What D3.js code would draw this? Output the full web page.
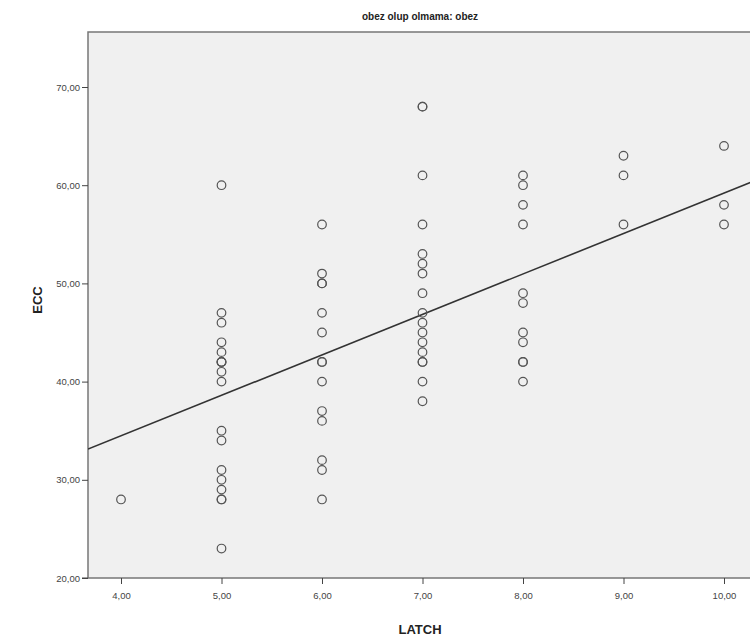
<!DOCTYPE html>
<html>
<head>
<meta charset="utf-8">
<script src="https://cdn.jsdelivr.net/npm/d3@7"></script>
<style>
  body { margin: 0; background: #fff; }
  svg { display: block; font-family: "Liberation Sans", Arial, sans-serif; }
</style>
</head>
<body>
<svg id="chart" width="750" height="642"></svg>
<script>
// LATCH groups and the ECC values
var latch4 = [28];
var latch5 = [60, 47, 46, 44, 43, 42, 42, 42, 41, 40, 35, 34, 31, 30, 29, 28, 28, 23];
var latch6 = [56, 51, 50, 50, 47, 45, 42, 42, 40, 37, 36, 32, 31, 28];
var latch7 = [68, 68, 61, 56, 53, 52, 51, 49, 47, 46, 45, 44, 43, 42, 42, 40, 38];
var latch8 = [61, 60, 58, 56, 49, 48, 45, 44, 42, 42, 40];
var latch9 = [63, 61, 56];
var latch10 = [64, 58, 56];

var xTicks = [4, 5, 6, 7, 8, 9, 10];
var yTicks = [20, 30, 40, 50, 60, 70];

// fit line (ECC = a + b * LATCH)
var fitA = 18.0;
var fitB = 4.12;

var svg = d3.select("#chart");
var plotLeft = 88, plotTop = 32, plotRight = 756, plotBottom = 578;

var x = d3.scaleLinear().domain([4, 10]).range([121, 724]);
var y = d3.scaleLinear().domain([20, 70]).range([578, 87]);

var fmt = function (d) { return d3.format(".2f")(d).replace(".", ","); };

function groupPoints(xv, arr) {
    return arr.map(function (v) { return { x: xv, y: v }; });
}
var points = [].concat(
    groupPoints(4, latch4), groupPoints(5, latch5), groupPoints(6, latch6),
    groupPoints(7, latch7), groupPoints(8, latch8), groupPoints(9, latch9),
    groupPoints(10, latch10)
);

// title
svg.append("text")
    .attr("x", 420).attr("y", 20)
    .attr("text-anchor", "middle")
    .style("font-size", "10px").style("font-weight", "bold").style("fill", "#222")
    .text("obez olup olmama: obez");

svg.append("defs").append("clipPath").attr("id", "clip")
    .append("rect")
    .attr("x", plotLeft).attr("y", plotTop)
    .attr("width", plotRight - plotLeft).attr("height", plotBottom - plotTop);

// plot background
svg.append("rect")
    .attr("x", plotLeft).attr("y", plotTop)
    .attr("width", plotRight - plotLeft).attr("height", plotBottom - plotTop)
    .style("fill", "#f0f0f0").style("stroke", "#777").style("stroke-width", 1.5);

var plot = svg.append("g").attr("clip-path", "url(#clip)");

// fit line across the plot
var xLo = x.invert(plotLeft), xHi = x.invert(plotRight);
plot.append("line")
    .attr("x1", x(xLo)).attr("y1", y(fitA + fitB * xLo))
    .attr("x2", x(xHi)).attr("y2", y(fitA + fitB * xHi))
    .style("stroke", "#333").style("stroke-width", 1.6);

plot.selectAll("circle.pt")
    .data(points)
    .enter().append("circle")
    .attr("class", "pt")
    .attr("cx", function (d) { return x(d.x); })
    .attr("cy", function (d) { return y(d.y); })
    .attr("r", 4.3)
    .style("fill", "none").style("stroke", "#555").style("stroke-width", 1.2);

// axes
var yAxis = d3.axisLeft(y).tickValues(yTicks).tickFormat(fmt).tickSize(6).tickPadding(2);
var gy = svg.append("g").attr("transform", "translate(" + plotLeft + ",0)").call(yAxis);

var xAxis = d3.axisBottom(x).tickValues(xTicks).tickFormat(fmt).tickSize(6).tickPadding(8);
var gx = svg.append("g").attr("transform", "translate(0," + plotBottom + ")").call(xAxis);

[gx, gy].forEach(function (g) {
    g.select(".domain").remove();
    g.selectAll(".tick line").style("stroke", "#444");
    g.selectAll(".tick text").style("font-size", "9.5px").style("fill", "#444");
});
svg.append("line")
    .attr("x1", 82).attr("x2", plotLeft).attr("y1", plotBottom).attr("y2", plotBottom)
    .style("stroke", "#444");

// axis titles
svg.append("text")
    .attr("x", 420).attr("y", 634)
    .attr("text-anchor", "middle")
    .style("font-size", "13px").style("font-weight", "bold").style("fill", "#222")
    .text("LATCH");

svg.append("text")
    .attr("transform", "translate(42,300) rotate(-90)")
    .attr("text-anchor", "middle")
    .style("font-size", "13px").style("font-weight", "bold").style("fill", "#222")
    .text("ECC");
</script>
</body>
</html>
